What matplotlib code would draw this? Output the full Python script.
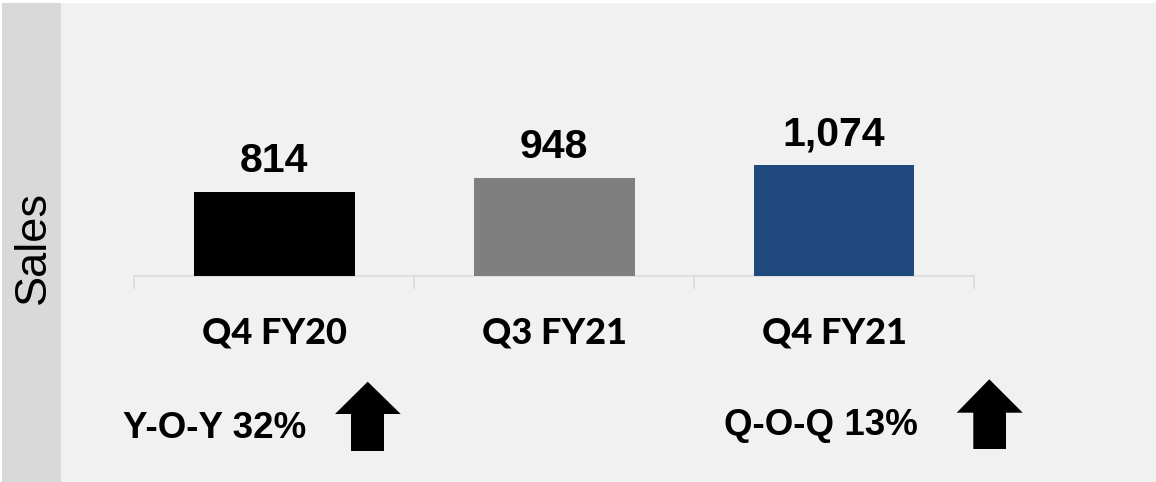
import matplotlib
matplotlib.use("Agg")
import matplotlib.pyplot as plt
from matplotlib.patches import Rectangle, Polygon
from matplotlib.transforms import blended_transform_factory

categories = ["Q4 FY20", "Q3 FY21", "Q4 FY21"]
sales = [814, 948, 1074]
bar_colors = ["#000000", "#7F7F7F", "#1F497D"]
value_labels = ["814", "948", "1,074"]
yoy_text = "Y-O-Y 32%"
qoq_text = "Q-O-Q 13%"

W, H = 1156, 482
fig = plt.figure(figsize=(W / 100, H / 100), dpi=100)
fig.patch.set_facecolor("white")

def fx(px):
    return px / W

def fy(py):
    return (H - py) / H

# background panels
fig.patches.append(Rectangle((fx(61), 0), fx(W - 61), fy(3), transform=fig.transFigure,
                             facecolor="#F1F1F1", edgecolor="none", zorder=-2))
fig.patches.append(Rectangle((fx(2), 0), fx(59), fy(3), transform=fig.transFigure,
                             facecolor="#D9D9D9", edgecolor="none", zorder=-2))

ax = fig.add_axes([fx(134), fy(276), fx(840), (276 - 20) / H])
ax.set_facecolor("none")
x = list(range(len(categories)))
ax.bar(x, sales, width=0.575, color=bar_colors, zorder=3)
ax.set_xlim(-0.5, len(categories) - 0.5)
ax.set_ylim(0, 256 / 0.1033)

for s in ["top", "left", "right"]:
    ax.spines[s].set_visible(False)
ax.spines["bottom"].set_color("#D9D9D9")
ax.spines["bottom"].set_linewidth(1.1)
ax.set_yticks([])
ax.set_xticks([i - 0.5 for i in range(len(categories) + 1)])
ax.set_xticklabels([])
ax.tick_params(axis="x", length=9.5, width=1.1, color="#D9D9D9", direction="out")

for xi, v, lab in zip(x, sales, value_labels):
    ax.annotate(lab, (xi, v), xytext=(0, 14.4), textcoords="offset points",
                ha="center", va="baseline", fontsize=29.5, fontweight="bold",
                family="Liberation Sans", color="black")

tr = blended_transform_factory(ax.transData, fig.transFigure)
for xi, c in zip(x, categories):
    ax.text(xi, fy(344), c, transform=tr, ha="center", va="baseline",
            fontsize=26, fontweight="black", family="Lato", color="black")

fig.text(fx(33), fy(248), "Sales", rotation=90, ha="center", va="center",
         fontsize=32.5, family="Liberation Sans", color="black")

fig.text(fx(123), fy(438), yoy_text, ha="left", va="baseline",
         fontsize=26.5, fontweight="bold", family="Liberation Sans", color="black")
fig.text(fx(724), fy(435), qoq_text, ha="left", va="baseline",
         fontsize=26.5, fontweight="bold", family="Liberation Sans", color="black")

def up_arrow(tip_x, tip_y, head_l, head_r, head_base, shaft_l, shaft_r, bottom):
    pts = [(tip_x, tip_y), (head_r, head_base), (shaft_r, head_base), (shaft_r, bottom),
           (shaft_l, bottom), (shaft_l, head_base), (head_l, head_base)]
    pts = [(fx(a), fy(b)) for a, b in pts]
    fig.patches.append(Polygon(pts, closed=True, transform=fig.transFigure,
                               facecolor="black", edgecolor="none", zorder=2))

up_arrow(367.7, 381.7, 335, 400.7, 414, 351, 384, 451)
up_arrow(989.3, 379.3, 956.7, 1022.7, 412.7, 973.3, 1006, 449)

fig.savefig("out.png", dpi=100, facecolor=fig.get_facecolor())
